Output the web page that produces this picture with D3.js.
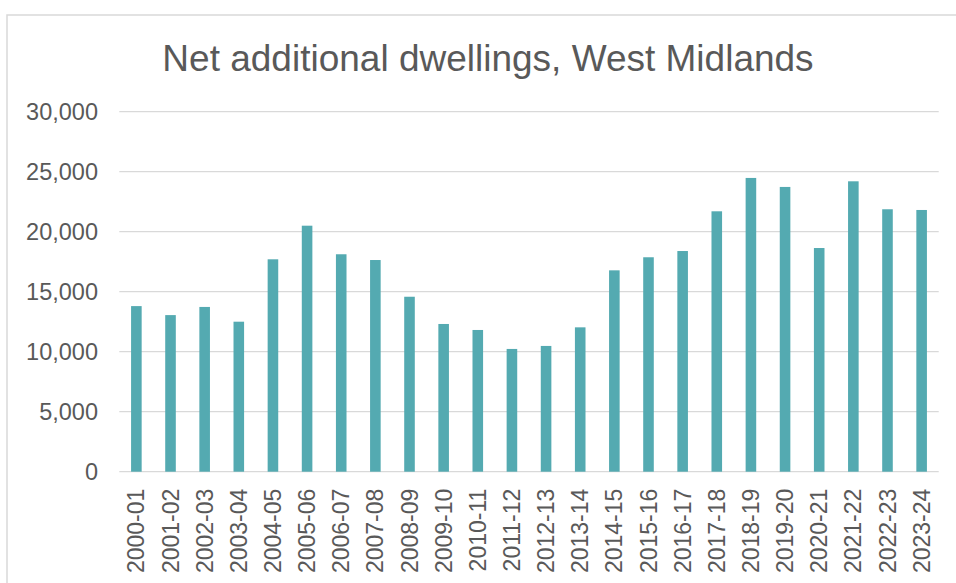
<!DOCTYPE html>
<html>
<head>
<meta charset="utf-8">
<script src="https://cdn.jsdelivr.net/npm/d3@7"></script>
<style>
  html, body { margin: 0; padding: 0; background: #ffffff; }
  svg { display: block; font-family: "Liberation Sans", Arial, sans-serif; }
</style>
</head>
<body>
<svg id="chart" width="956" height="583"></svg>
<script>
const title = "Net additional dwellings, West Midlands";
const categories = ["2000-01","2001-02","2002-03","2003-04","2004-05","2005-06","2006-07","2007-08","2008-09","2009-10","2010-11","2011-12","2012-13","2013-14","2014-15","2015-16","2016-17","2017-18","2018-19","2019-20","2020-21","2021-22","2022-23","2023-24"];
const values = [13800,13050,13730,12500,17700,20500,18120,17640,14580,12310,11810,10230,10480,12030,16780,17870,18390,21700,24480,23730,18640,24200,21870,21810];
const yTicks = [0,5000,10000,15000,20000,25000,30000];

const svg = d3.select("#chart");
const W = 956, H = 583;
const margin = {left: 119.3, right: W - 938.7, top: 111.7, bottom: H - 471.7};
const textColor = "#595959";
const gridColor = "#d9d9d9";
const barColor = "#54aab1";

// outer frame
svg.append("rect")
  .attr("x", 7).attr("y", 15)
  .attr("width", 980).attr("height", 600)
  .attr("fill", "none").attr("stroke", gridColor).attr("stroke-width", 1.5);

const x = d3.scaleBand()
  .domain(categories)
  .range([margin.left, W - margin.right])
  .paddingInner(0.69)
  .paddingOuter(0.345);

const y = d3.scaleLinear()
  .domain([0, 30000])
  .range([H - margin.bottom, margin.top]);

// gridlines
svg.append("g")
  .selectAll("line")
  .data(yTicks)
  .join("line")
  .attr("x1", margin.left).attr("x2", W - margin.right)
  .attr("y1", d => y(d)).attr("y2", d => y(d))
  .attr("stroke", gridColor).attr("stroke-width", 1.3);

// y axis labels
const yAxis = d3.axisLeft(y).tickValues(yTicks).tickSize(0).tickPadding(0)
  .tickFormat(d3.format(","));
const gy = svg.append("g").attr("transform", `translate(98,0)`).call(yAxis);
gy.select(".domain").remove();
gy.selectAll("text")
  .attr("fill", textColor)
  .style("font-size", "23.5px")
  .style("font-family", "\"Liberation Sans\", Arial, sans-serif");

// bars
svg.append("g")
  .selectAll("rect")
  .data(values)
  .join("rect")
  .attr("x", (d, i) => x(categories[i]))
  .attr("width", x.bandwidth())
  .attr("y", d => y(d))
  .attr("height", d => y(0) - y(d))
  .attr("fill", barColor);

// x axis labels
const xAxis = d3.axisBottom(x).tickSize(0).tickPadding(0);
const gx = svg.append("g").attr("transform", `translate(0,${y(0)})`).call(xAxis);
gx.select(".domain").remove();
gx.selectAll("text")
  .attr("fill", textColor)
  .style("font-size", "23px")
  .style("font-family", "\"Liberation Sans\", Arial, sans-serif")
  .attr("text-anchor", "end")
  .attr("transform", "translate(0,17) rotate(-90)")
  .attr("x", 0).attr("y", 0).attr("dy", "0.35em");

// title
svg.append("text")
  .attr("x", 488).attr("y", 71)
  .attr("text-anchor", "middle")
  .attr("fill", textColor)
  .style("font-size", "37px")
  .text(title);
</script>
</body>
</html>
